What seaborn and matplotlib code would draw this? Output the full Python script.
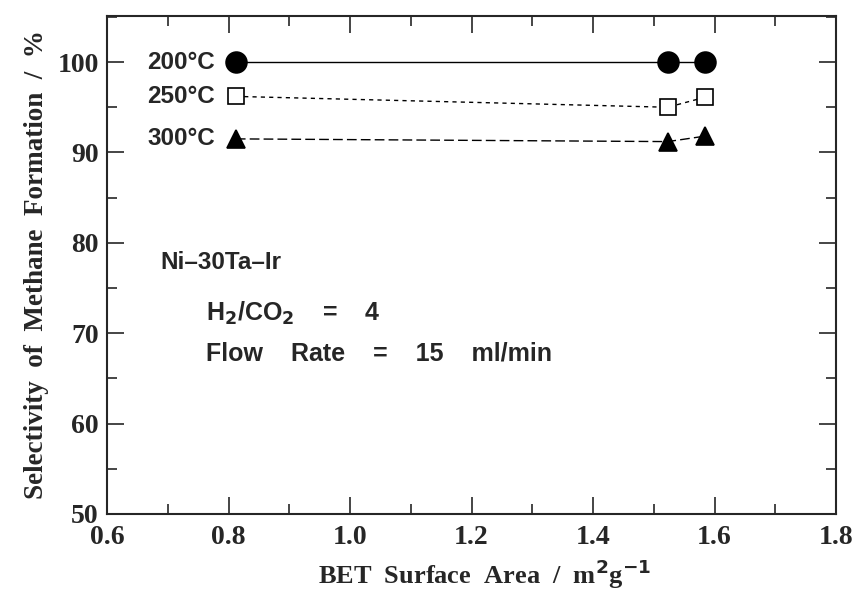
import matplotlib
matplotlib.use("Agg")
import matplotlib.pyplot as plt
from matplotlib.ticker import MultipleLocator
import seaborn as sns
import pandas as pd

# BET surface area of the catalyst samples (m^2/g)
bet_area = [0.812, 1.523, 1.584]
# Methane selectivity (%) at each reaction temperature
sel_200 = [100.0, 100.0, 100.0]
sel_250 = [96.2, 95.0, 96.1]
sel_300 = [91.5, 91.2, 91.8]
temps = ["200°C", "250°C", "300°C"]

df = pd.concat([
    pd.DataFrame({"area": bet_area, "sel": s, "temp": t})
    for s, t in zip([sel_200, sel_250, sel_300], temps)
], ignore_index=True)

sns.set_style("ticks")
plt.rcParams["font.family"] = ["Liberation Serif", "DejaVu Serif"]
sans = ["Liberation Sans", "DejaVu Sans"]

fig = plt.figure(figsize=(8.57, 5.91), dpi=100)
ax = fig.add_axes([0.1249, 0.1303, 0.8506, 0.8427])

styles = {
    "200°C": dict(marker="o", mfc="black", ls="-", ms=15),
    "250°C": dict(marker="s", mfc="white", ls=(0, (3, 3)), ms=11),
    "300°C": dict(marker="^", mfc="black", ls=(0, (7, 3)), ms=13),
}
for t in temps:
    sub = df[df["temp"] == t]
    st = styles[t]
    sns.lineplot(data=sub, x="area", y="sel", ax=ax, color="black",
                 linewidth=1.0, linestyle=st["ls"], marker=st["marker"],
                 markersize=st["ms"], markerfacecolor=st["mfc"],
                 markeredgecolor="black", markeredgewidth=1.2, legend=False)
    y0 = sub["sel"].iloc[0]
    ax.text(0.778, y0, t, ha="right", va="center", fontsize=17.5,
            fontweight="bold", family=sans)

ax.set_xlim(0.6, 1.8)
ax.set_ylim(50, 105.1)
ax.xaxis.set_minor_locator(MultipleLocator(0.1))
ax.yaxis.set_minor_locator(MultipleLocator(5))
ax.set_xticks([0.6, 0.8, 1.0, 1.2, 1.4, 1.6, 1.8])
ax.set_xticklabels(["0.6", "0.8", "1.0", "1.2", "1.4", "1.6", "1.8"])
ax.set_yticks([50, 60, 70, 80, 90, 100])
ax.tick_params(which="both", direction="in", top=True, right=True,
               width=1.2, labelsize=20)
ax.tick_params(axis="x", which="major", pad=8)
ax.tick_params(axis="y", which="major", pad=6)
ax.tick_params(which="major", length=12)
ax.tick_params(which="minor", length=7)
for lbl in ax.get_xticklabels() + ax.get_yticklabels():
    lbl.set_fontweight("bold")
for sp in ax.spines.values():
    sp.set_linewidth(1.5)

ax.set_xlabel(r"BET  Surface  Area  /  m$^{\mathbf{2}}$g$^{\mathbf{-1}}$",
              fontsize=19, fontweight="bold")
ax.xaxis.set_label_coords(0.518, -0.088)
ax.set_ylabel("Selectivity  of  Methane  Formation  /  %", fontsize=19.5,
              fontweight="bold", labelpad=6)

ax.text(0.687, 77.8, "Ni\u201330Ta\u2013Ir", fontsize=17.5,
        fontweight="bold", family=sans, va="center")
ax.text(0.763, 72.2, r"H$_\mathbf{2}$/CO$_\mathbf{2}$    =    4", fontsize=18,
        fontweight="bold", family=sans, va="center")
ax.text(0.763, 67.8, "Flow    Rate    =    15    ml/min", fontsize=18,
        fontweight="bold", family=sans, va="center")

fig.savefig("out.png", dpi=100)
